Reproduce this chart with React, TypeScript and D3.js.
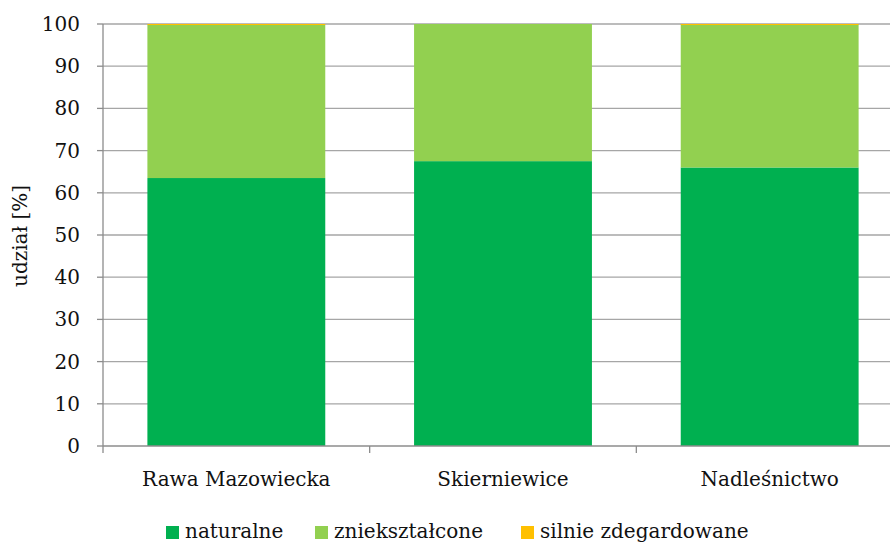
import React from "react";
import * as d3 from "d3";

const categories = ["Rawa Mazowiecka", "Skierniewice", "Nadleśnictwo"];
const seriesNames = ["naturalne", "zniekształcone", "silnie zdegardowane"];
const naturalne = [63.5, 67.5, 66.0];
const znieksztalcone = [36.3, 32.5, 33.9];
const silnie = [0.2, 0.0, 0.1];
const yTicks = [0, 10, 20, 30, 40, 50, 60, 70, 80, 90, 100];
const colors = ["#00B050", "#92D050", "#FFC000"];

const W = 890;
const H = 542;
const FONT = '"DejaVu Serif", "Liberation Serif", serif';
const ts: React.CSSProperties = { fontFamily: FONT };

export default function App() {
  const left = 103;
  const right = 903;
  const top = 24;
  const bottom = 446;
  const x = d3.scaleBand<string>().domain(categories).range([left, right]).paddingInner(0).paddingOuter(0);
  const y = d3.scaleLinear().domain([0, 100]).range([bottom, top]);
  const barW = x.bandwidth() * 0.667;

  const rows = categories.map((c, i) => ({
    cat: c,
    naturalne: naturalne[i],
    znieksztalcone: znieksztalcone[i],
    silnie: silnie[i],
  }));
  const stack = d3.stack<any>().keys(["naturalne", "znieksztalcone", "silnie"]);
  const layers = stack(rows);

  const legendItems = [
    { x: 166, label: seriesNames[0], color: colors[0] },
    { x: 315, label: seriesNames[1], color: colors[1] },
    { x: 521, label: seriesNames[2], color: colors[2] },
  ];

  return (
    <svg width={W} height={H} style={{ position: "absolute", left: 0, top: 0, background: "#fff" }}>
      {yTicks.map((t) => (
        <g key={t}>
          {t > 0 && (
            <line x1={left} x2={W} y1={y(t)} y2={y(t)} stroke="#a6a6a6" strokeWidth={1.3} />
          )}
          <line x1={left - 6} x2={left} y1={y(t)} y2={y(t)} stroke="#8c8c8c" strokeWidth={1.3} />
          <text x={80} y={y(t)} dy="0.35em" textAnchor="end" style={ts} fontSize={20} fill="#111">
            {t}
          </text>
        </g>
      ))}
      {layers.map((layer, li) =>
        layer.map((d: any, i: number) => {
          const h = y(d[0]) - y(d[1]);
          if (h <= 0) return null;
          const cx = (x(categories[i]) as number) + x.bandwidth() / 2;
          return (
            <rect
              key={li + "-" + i}
              x={cx - barW / 2}
              y={y(d[1])}
              width={barW}
              height={Math.max(h, 1)}
              fill={colors[li]}
            />
          );
        })
      )}
      <line x1={left} x2={left} y1={top} y2={bottom} stroke="#8c8c8c" strokeWidth={1.3} />
      <line x1={left} x2={W} y1={bottom} y2={bottom} stroke="#8c8c8c" strokeWidth={1.3} />
      {[0, 1, 2, 3].map((k) => {
        const xx = left + k * x.bandwidth();
        return <line key={k} x1={xx} x2={xx} y1={bottom} y2={bottom + 7} stroke="#8c8c8c" strokeWidth={1.3} />;
      })}
      {categories.map((c) => (
        <text
          key={c}
          x={(x(c) as number) + x.bandwidth() / 2}
          y={486}
          textAnchor="middle"
          style={ts}
          fontSize={20}
          fill="#111"
        >
          {c}
        </text>
      ))}
      <text
        transform={`translate(27,236) rotate(-90)`}
        textAnchor="middle"
        style={ts}
        fontSize={20}
        fill="#111"
      >
        udział [%]
      </text>
      {legendItems.map((l) => (
        <g key={l.label}>
          <rect x={l.x} y={526} width={13} height={13} fill={l.color} />
          <text x={l.x + 19} y={538} style={ts} fontSize={20} fill="#111">
            {l.label}
          </text>
        </g>
      ))}
    </svg>
  );
}
